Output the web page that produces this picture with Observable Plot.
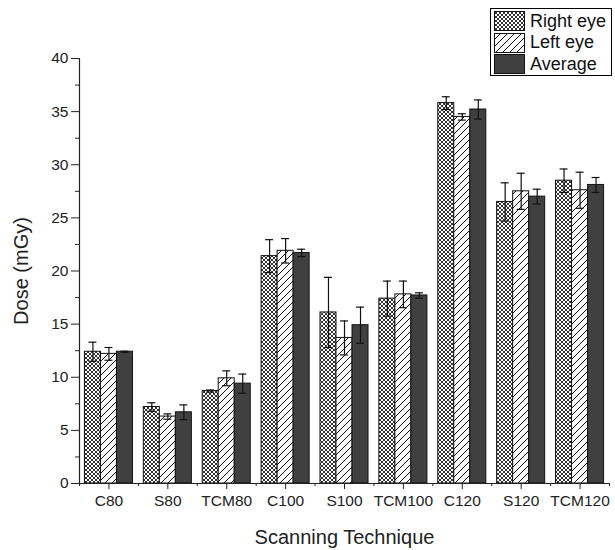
<!DOCTYPE html>
<html>
<head>
<meta charset="utf-8">
<script src="https://cdn.jsdelivr.net/npm/d3@7"></script>
<script src="https://cdn.jsdelivr.net/npm/@observablehq/plot@0.6"></script>
<style>
  html, body { margin: 0; padding: 0; background: #fff; }
  #wrap { position: relative; width: 615px; height: 550px; font-family: "Liberation Sans", Arial, sans-serif; }
  #legend { position: absolute; left: 490px; top: 8px; width: 122px; height: 68px; border: 1px solid #000; background: #fff; box-sizing: border-box; }
  #legend .row { position: absolute; left: 3px; height: 20px; display: flex; align-items: center; }
  #legend svg { display: block; }
  #legend span { margin-left: 5px; font-size: 18px; color: #111; white-space: nowrap; }
</style>
</head>
<body>
<div id="wrap"><div id="legend"></div></div>
<script>
const categories = ["C80", "S80", "TCM80", "C100", "S100", "TCM100", "C120", "S120", "TCM120"];
const seriesNames = ["Right eye", "Left eye", "Average"];
const rightEye = [12.4, 7.2, 8.7, 21.4, 16.1, 17.4, 35.8, 26.5, 28.5];
const rightErr = [0.9, 0.4, 0.1, 1.55, 3.3, 1.65, 0.6, 1.8, 1.1];
const leftEye  = [12.2, 6.3, 9.9, 21.9, 13.7, 17.8, 34.5, 27.5, 27.6];
const leftErr  = [0.6, 0.25, 0.7, 1.15, 1.6, 1.25, 0.3, 1.7, 1.7];
const average  = [12.4, 6.7, 9.4, 21.7, 14.9, 17.7, 35.2, 27.0, 28.1];
const avgErr   = [0.05, 0.7, 0.9, 0.35, 1.7, 0.25, 0.9, 0.7, 0.7];
const yTicks = [0, 5, 10, 15, 20, 25, 30, 35, 40];

const values = [rightEye, leftEye, average];
const errors = [rightErr, leftErr, avgErr];
const fills = ["url(#pat-right)", "url(#pat-left)", "#404040"];

const barW = 0.272;   // width of one bar, in category units
const capW = 0.068;   // half-width of error caps
const rows = [];
categories.forEach((cat, i) => {
  seriesNames.forEach((s, k) => {
    const c = i + (k - 1) * barW;
    rows.push({cat, i, series: s, value: values[k][i], err: errors[k][i], c, x1: c - barW / 2, x2: c + barW / 2});
  });
});

const font = "Liberation Sans, Arial, sans-serif";
const plot = Plot.plot({
  width: 615,
  height: 550,
  marginLeft: 79,
  marginRight: 6,
  marginTop: 58,
  marginBottom: 67,
  style: {fontFamily: font, fontSize: "15.5px", color: "#222", background: "#fff"},
  x: {type: "linear", domain: [-0.5, 8.5]},
  y: {domain: [0, 40]},
  color: {type: "ordinal", domain: seriesNames, range: fills},
  marks: [
    Plot.rectY(rows, {x1: "x1", x2: "x2", y1: 0, y2: "value", fill: "series", stroke: "#111", strokeWidth: 1}),
    Plot.ruleX(rows, {x: "c", y1: d => d.value - d.err, y2: d => d.value + d.err, stroke: "#111", strokeWidth: 1.2}),
    Plot.ruleY(rows, {y: d => d.value + d.err, x1: d => d.c - capW, x2: d => d.c + capW, stroke: "#111", strokeWidth: 1.2}),
    Plot.ruleY(rows, {y: d => d.value - d.err, x1: d => d.c - capW, x2: d => d.c + capW, stroke: "#111", strokeWidth: 1.2}),
    Plot.ruleX([-0.5], {stroke: "#222", strokeWidth: 1.2}),
    Plot.ruleY([0], {stroke: "#222", strokeWidth: 1.2}),
    Plot.axisY({ticks: yTicks, tickSize: 8, tickPadding: 3, label: null, fontSize: 15.5, stroke: "#222"}),
    Plot.axisY({ticks: d3.range(2.5, 40, 5), tickSize: 4, text: null, label: null, stroke: "#222"}),
    Plot.axisX({ticks: d3.range(categories.length), tickFormat: i => categories[i], tickSize: 6, tickPadding: 5, label: null, fontSize: 15.5, stroke: "#222"}),
    Plot.axisX({ticks: d3.range(-0.5, categories.length, 1), tickSize: 3, text: null, label: null, stroke: "#222"}),
    Plot.text(["Dose (mGy)"], {frameAnchor: "left", textAnchor: "middle", lineAnchor: "middle", rotate: -90, dx: -58, fontSize: 20, fill: "#222"}),
    Plot.text(["Scanning Technique"], {frameAnchor: "bottom", textAnchor: "middle", lineAnchor: "middle", dy: 54, fontSize: 20, fill: "#222"})
  ]
});

// patterns for the hatched fills
const defs = d3.select(plot).insert("defs", ":first-child");
const pr = defs.append("pattern").attr("id", "pat-right").attr("patternUnits", "userSpaceOnUse").attr("width", 4).attr("height", 4);
pr.append("rect").attr("width", 4).attr("height", 4).attr("fill", "#fff");
pr.append("path").attr("d", "M0,0L4,4M4,0L0,4").attr("stroke", "#333").attr("stroke-width", 1);
const pl = defs.append("pattern").attr("id", "pat-left").attr("patternUnits", "userSpaceOnUse").attr("width", 7).attr("height", 7);
pl.append("rect").attr("width", 7).attr("height", 7).attr("fill", "#fff");
pl.append("path").attr("d", "M0,7L7,0M-1,1L1,-1M6,8L8,6").attr("stroke", "#111").attr("stroke-width", 1);

const wrap = document.getElementById("wrap");
wrap.insertBefore(plot, wrap.firstChild);

// legend
const legend = d3.select("#legend");
seriesNames.forEach((s, k) => {
  const row = legend.append("div").attr("class", "row").style("top", (2 + k * 21.5) + "px");
  const sw = row.append("svg").attr("width", 31).attr("height", 20);
  sw.append("rect").attr("x", 0.5).attr("y", 0.5).attr("width", 30).attr("height", 19).attr("fill", fills[k]).attr("stroke", "#111");
  row.append("span").text(s);
});
</script>
</body>
</html>
